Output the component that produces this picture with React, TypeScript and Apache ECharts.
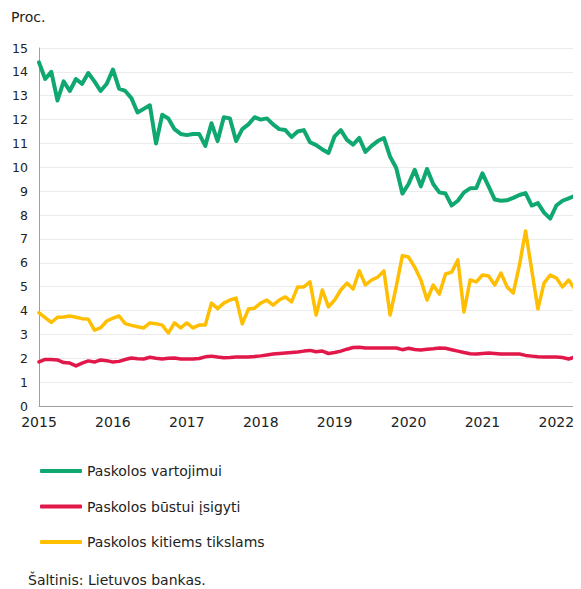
import React, { useEffect, useRef } from "react";
import * as echarts from "echarts";

const years = [2015, 2016, 2017, 2018, 2019, 2020, 2021, 2022];
const months: string[] = [];
for (let i = 0; i < 89; i++) {
  const y = 2015 + Math.floor(i / 12);
  const m = (i % 12) + 1;
  months.push(`${y}-${m < 10 ? "0" + m : m}`);
}

const seriesNames = [
  "Paskolos vartojimui",
  "Paskolos būstui įsigyti",
  "Paskolos kitiems tikslams",
];

const vartojimui = [
  14.4, 13.7, 14.0, 12.8, 13.6, 13.2, 13.7, 13.5, 13.95, 13.6, 13.2, 13.5,
  14.1, 13.3, 13.2, 12.9, 12.3, 12.45, 12.6, 11.0, 12.2, 12.05, 11.6, 11.4,
  11.35, 11.4, 11.4, 10.9, 11.85, 11.1, 12.1, 12.05, 11.1, 11.6, 11.8, 12.1,
  12.0, 12.05, 11.8, 11.6, 11.56, 11.27, 11.5, 11.56, 11.05, 10.93, 10.75, 10.6,
  11.3, 11.56, 11.15, 10.95, 11.23, 10.65, 10.9, 11.1, 11.23, 10.45, 9.97, 8.9,
  9.3, 9.9, 9.2, 9.93, 9.3, 8.95, 8.9, 8.4, 8.6, 8.95, 9.12, 9.13,
  9.75, 9.2, 8.65, 8.6, 8.62, 8.72, 8.84, 8.92, 8.4, 8.5, 8.1, 7.85,
  8.4, 8.6, 8.7, 8.8, 8.85,
];

const bustui = [
  1.85, 1.95, 1.95, 1.93, 1.82, 1.8, 1.68, 1.8, 1.89, 1.84, 1.93, 1.9,
  1.84, 1.87, 1.95, 2.01, 1.98, 1.97, 2.04, 2.0, 1.97, 2.0, 2.01, 1.97,
  1.97, 1.97, 1.99, 2.06, 2.09, 2.05, 2.02, 2.03, 2.05, 2.05, 2.05, 2.07,
  2.1, 2.14, 2.18, 2.2, 2.22, 2.24, 2.26, 2.3, 2.33, 2.27, 2.3, 2.2,
  2.24, 2.3, 2.38, 2.45, 2.46, 2.43, 2.43, 2.43, 2.43, 2.43, 2.43, 2.36,
  2.42, 2.37, 2.35, 2.38, 2.4, 2.43, 2.42, 2.36, 2.3, 2.24, 2.19, 2.18,
  2.2, 2.22, 2.2, 2.18, 2.18, 2.18, 2.18, 2.12, 2.09, 2.06, 2.05, 2.05,
  2.05, 2.03, 1.97, 2.05, 2.09,
];

const kitiems = [
  3.9, 3.7, 3.5, 3.72, 3.73, 3.77, 3.72, 3.66, 3.64, 3.18, 3.27, 3.56,
  3.68, 3.77, 3.45, 3.38, 3.32, 3.27, 3.48, 3.45, 3.39, 3.06, 3.48, 3.27,
  3.48, 3.27, 3.39, 3.39, 4.31, 4.08, 4.31, 4.44, 4.52, 3.44, 4.06, 4.1,
  4.31, 4.44, 4.23, 4.44, 4.57, 4.36, 4.99, 4.99, 5.2, 3.81, 4.86, 4.15,
  4.44, 4.86, 5.15, 4.9, 5.66, 5.07, 5.28, 5.4, 5.66, 3.81, 5.0, 6.3,
  6.24, 5.82, 5.28, 4.44, 5.07, 4.69, 5.53, 5.61, 6.12, 3.94, 5.28, 5.2,
  5.49, 5.45, 5.07, 5.57, 4.99, 4.73, 5.9, 7.33, 5.7, 4.06, 5.15, 5.49,
  5.36, 4.99, 5.28, 4.9, 5.2,
];

const colors = ["#0fa870", "#e2184b", "#ffbe00"];
const FONT = "DejaVu Sans";

export default function App() {
  const ref = useRef<HTMLDivElement>(null);
  useEffect(() => {
    if (!ref.current) return;
    const chart = echarts.init(ref.current, undefined, { renderer: "svg" });
    const data = [vartojimui, bustui, kitiems];
    chart.setOption({
      animation: false,
      textStyle: { fontFamily: FONT, color: "#222" },
      title: {
        text: "Proc.",
        left: 3,
        top: 2,
        padding: 0,
        textStyle: { fontFamily: FONT, fontSize: 14, fontWeight: "normal", color: "#222" },
      },
      grid: { left: 31, right: -8, top: 40, bottom: 183, containLabel: false },
      legend: {
        orient: "vertical",
        left: 32,
        top: 456,
        padding: 0,
        itemGap: 21.5,
        itemWidth: 42,
        itemHeight: 4,
        icon: "roundRect",
        textStyle: { fontFamily: FONT, fontSize: 14, color: "#222" },
        data: seriesNames,
      },
      xAxis: {
        type: "category",
        data: months,
        boundaryGap: false,
        axisLine: { lineStyle: { color: "#a0a0a0", width: 1 } },
        axisTick: { show: false },
        axisLabel: {
          interval: (idx: number) => idx % 12 === 0,
          formatter: (v: string) => {
            const y = Number(v.slice(0, 4));
            return years.includes(y) ? String(y) : "";
          },
          fontFamily: FONT,
          fontSize: 14,
          color: "#222",
          margin: 9,
        },
        splitLine: { show: false },
      },
      yAxis: {
        type: "value",
        min: 0,
        max: 15,
        interval: 1,
        axisLine: { show: true, lineStyle: { color: "#a0a0a0", width: 1 } },
        axisTick: { show: false },
        axisLabel: { fontFamily: FONT, fontSize: 12.5, color: "#222", margin: 11 },
        splitLine: { lineStyle: { color: "#ebebeb", width: 1 } },
      },
      series: seriesNames.map((name, k) => ({
        name,
        type: "line",
        data: data[k],
        symbol: "none",
        lineStyle: { color: colors[k], width: k === 0 ? 4 : 3.5, join: "round", cap: "round" },
        itemStyle: { color: colors[k] },
        z: 3 - k,
      })),
      graphic: [
        {
          type: "text",
          left: 20,
          top: 565,
          style: { text: "Šaltinis: Lietuvos bankas.", fontFamily: FONT, fontSize: 14, fill: "#222" },
        },
      ],
    });
    return () => chart.dispose();
  }, []);
  return <div ref={ref} style={{ width: 573, height: 581 }} />;
}
